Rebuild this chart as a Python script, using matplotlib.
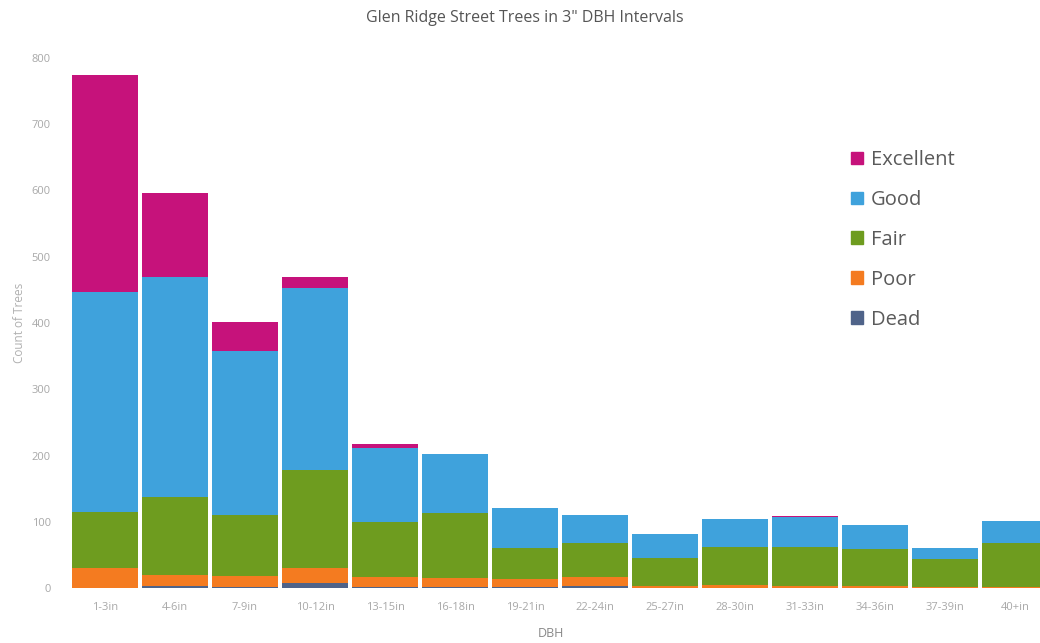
import matplotlib
matplotlib.use("Agg")
import matplotlib.pyplot as plt
from matplotlib.patches import Patch
import numpy as np

categories = ["1-3in", "4-6in", "7-9in", "10-12in", "13-15in", "16-18in", "19-21in",
              "22-24in", "25-27in", "28-30in", "31-33in", "34-36in", "37-39in", "40+in"]
dead      = [0, 3, 1, 7, 1, 1, 1, 3, 0, 0, 0, 0, 0, 0]
poor      = [30, 17, 17, 23, 16, 14, 12, 14, 3, 4, 3, 3, 1, 2]
fair      = [85, 117, 92, 148, 83, 98, 47, 51, 42, 58, 59, 56, 43, 66]
good      = [332, 332, 248, 275, 111, 89, 61, 42, 36, 42, 45, 36, 16, 33]
excellent = [328, 127, 44, 17, 6, 1, 0, 0, 0, 0, 1, 0, 0, 0]

series = [("Dead", dead, "#4f6389"), ("Poor", poor, "#f47b20"), ("Fair", fair, "#6e9c1f"),
          ("Good", good, "#3fa2dc"), ("Excellent", excellent, "#c6127b")]

plt.rcParams['font.family'] = ['Open Sans', 'DejaVu Sans']

fig = plt.figure(figsize=(10.4, 6.43), dpi=100)
ax = fig.add_axes([62/1040, 55/643, (1040-62)/1040, 530/643])

x = np.arange(len(categories))
bottom = np.zeros(len(categories))
for name, vals, col in series:
    ax.bar(x, vals, bottom=bottom, width=0.94, color=col, edgecolor='none', label=name)
    bottom += np.array(vals)

ax.set_xlim(-(105-62)/70, (1040-105)/70)
ax.set_ylim(0, 800)
ax.set_yticks(range(0, 801, 100))
ax.set_xticks(x)
ax.set_xticklabels(categories)
for s in ax.spines.values():
    s.set_visible(False)
ax.tick_params(axis='both', length=0, colors='#a8a8a8', labelsize=8)
ax.tick_params(axis='x', pad=10)
ax.tick_params(axis='y', pad=8)
ax.set_ylabel("Count of Trees", color='#b0b0b0', fontsize=8.5, labelpad=4)
ax.set_xlabel("DBH", color='#888888', fontsize=9, labelpad=10)

fig.text(525/1040, 1 - 18/643, 'Glen Ridge Street Trees in 3" DBH Intervals',
         ha='center', va='center', fontsize=11.5, color='#555555')

handles = [Patch(color=c, label=n) for n, v, c in series[::-1]]
leg = fig.legend(handles=handles, loc='upper left', bbox_to_anchor=(841/1040, 1 - 140/643),
                 frameon=False, fontsize=14.5, handlelength=0.6, handleheight=0.6,
                 handletextpad=0.4, labelspacing=0.99, borderpad=0)
for t in leg.get_texts():
    t.set_color('#5a5a5a')

fig.savefig("out.png", dpi=100)
